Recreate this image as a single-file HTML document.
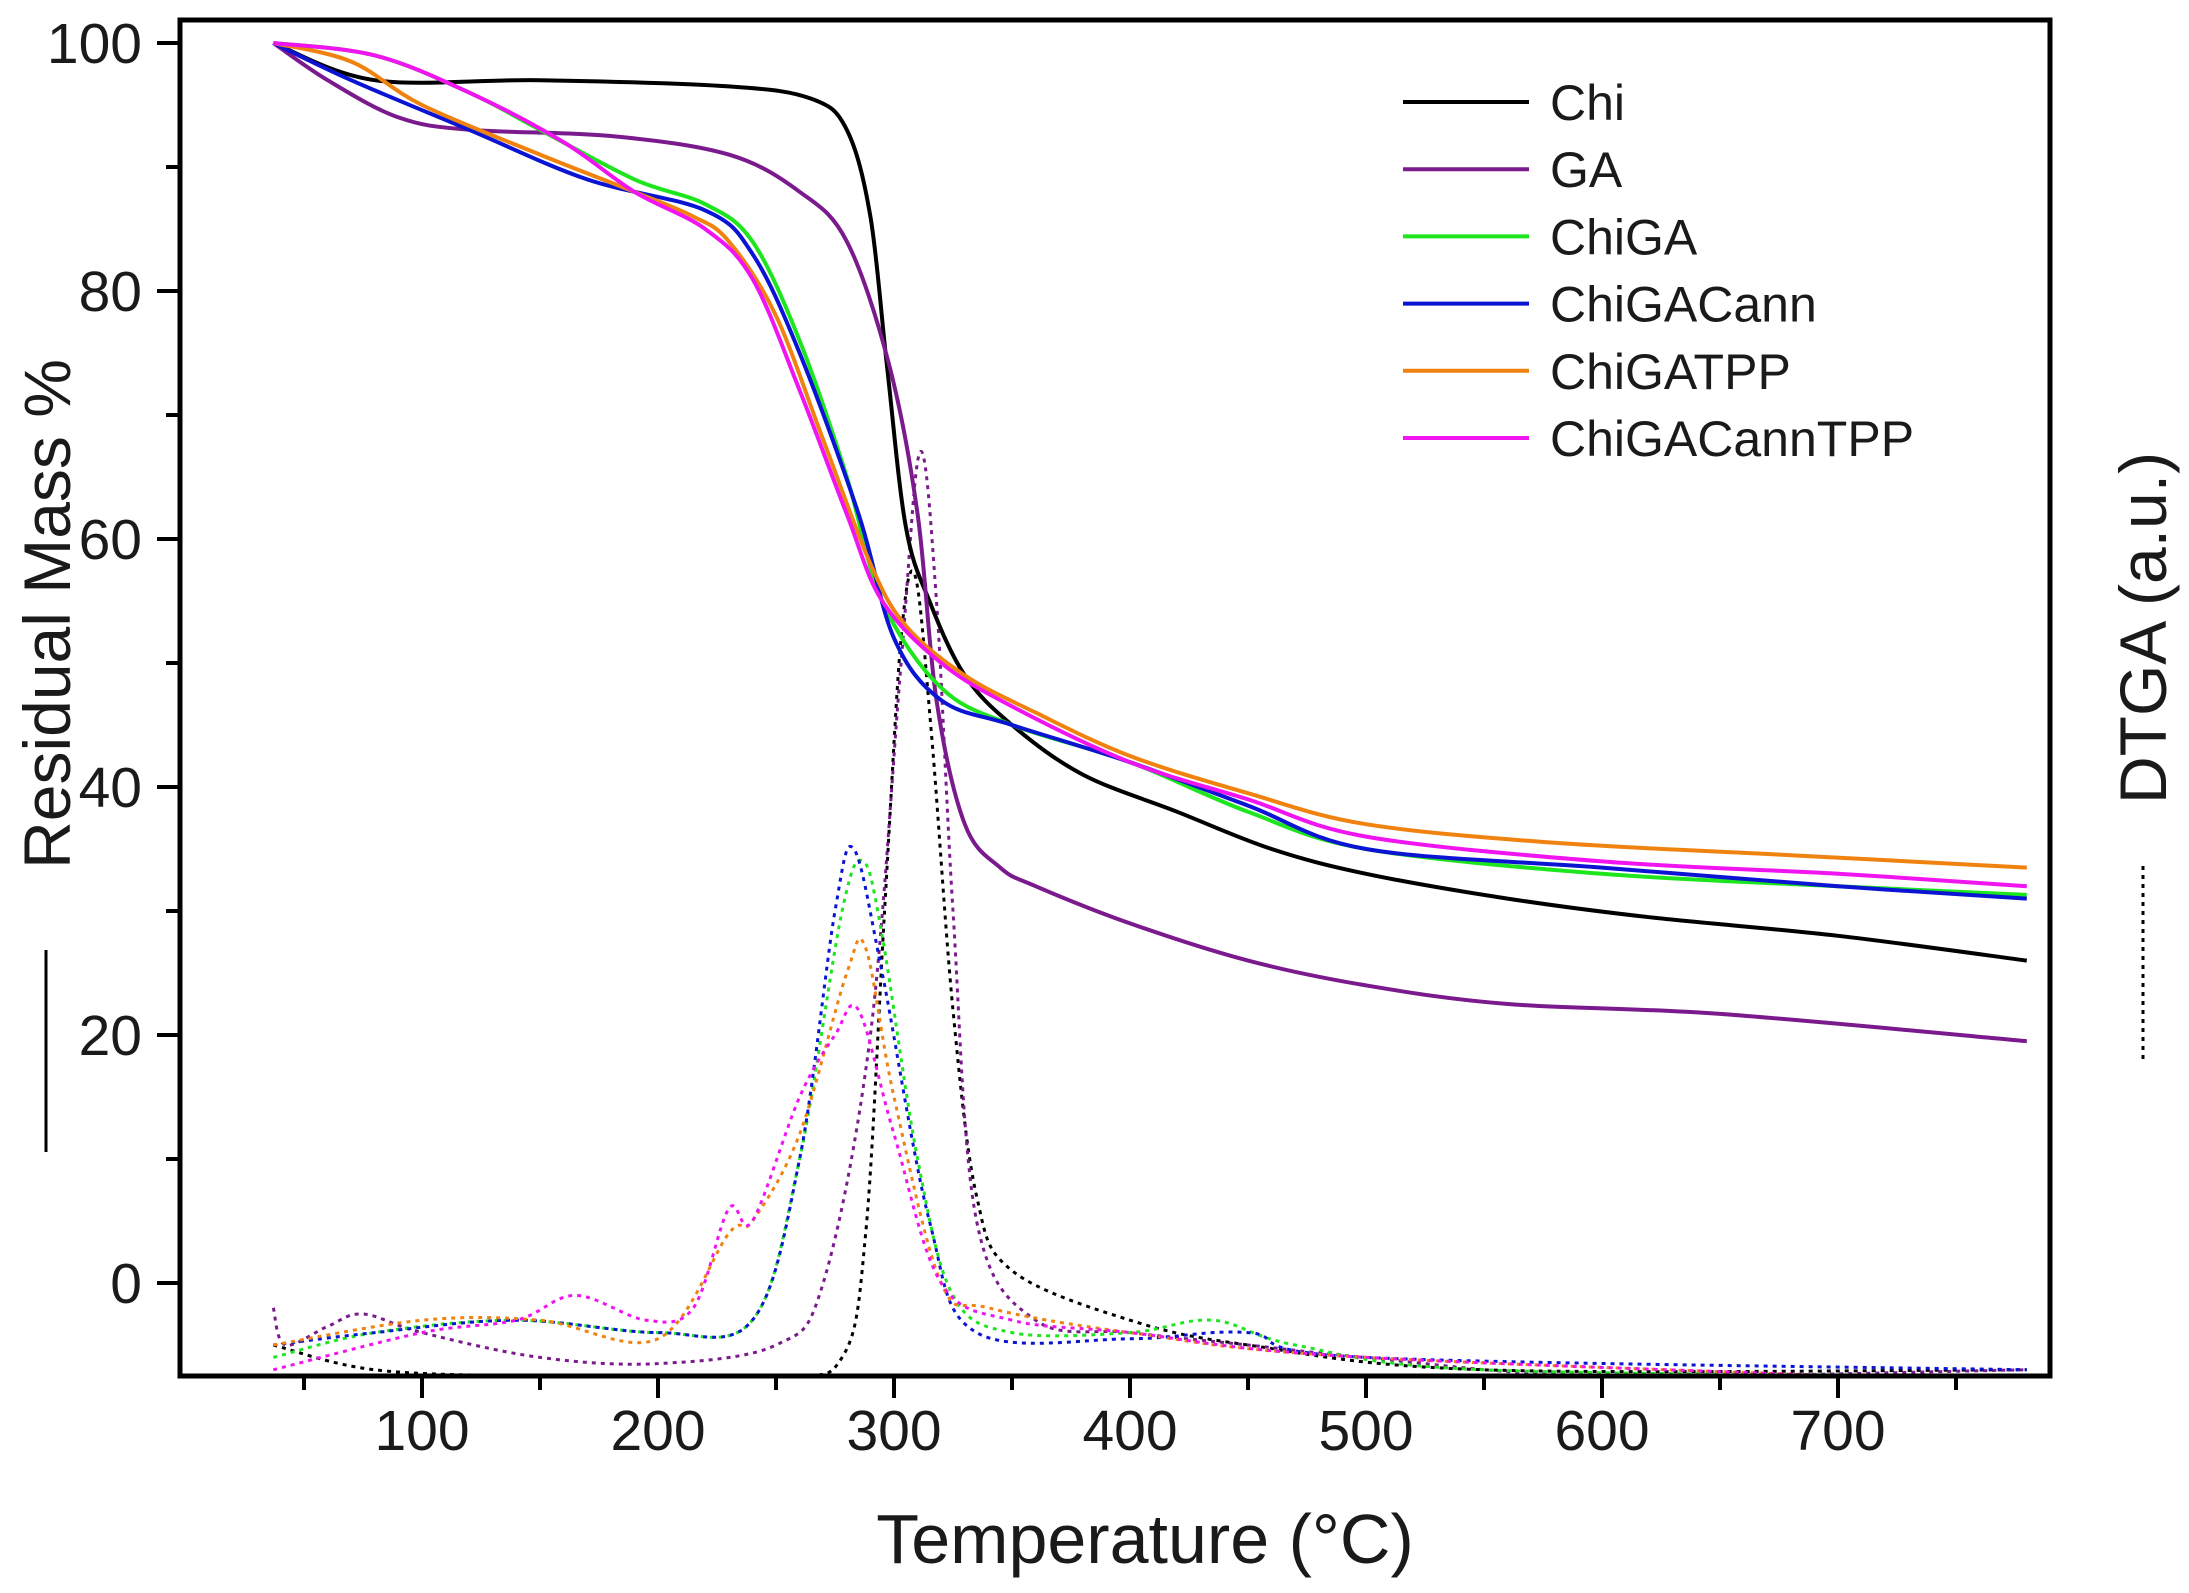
<!DOCTYPE html>
<html><head><meta charset="utf-8"><style>
html,body{margin:0;padding:0;background:#fff;}
svg{display:block;font-family:"Liberation Sans",Arial,sans-serif;}
</style></head><body>
<svg id="s" width="2189" height="1593" viewBox="0 0 2189 1593" xmlns="http://www.w3.org/2000/svg">
<defs><clipPath id="c"><rect x="180" y="20" width="1870" height="1356"/></clipPath></defs>
<g id="curves" clip-path="url(#c)"></g>
<rect x="180" y="20" width="1870" height="1356" fill="none" stroke="#000" stroke-width="5"/>
<g id="ticks" stroke="#000" stroke-width="4"></g>
<g font-size="57" fill="#1a1a1a">
<text x="142" y="63" text-anchor="end">100</text>
<text x="142" y="311" text-anchor="end">80</text>
<text x="142" y="559" text-anchor="end">60</text>
<text x="142" y="807" text-anchor="end">40</text>
<text x="142" y="1055" text-anchor="end">20</text>
<text x="142" y="1303" text-anchor="end">0</text>
<text x="422" y="1450" text-anchor="middle">100</text>
<text x="658" y="1450" text-anchor="middle">200</text>
<text x="894" y="1450" text-anchor="middle">300</text>
<text x="1130" y="1450" text-anchor="middle">400</text>
<text x="1366" y="1450" text-anchor="middle">500</text>
<text x="1602" y="1450" text-anchor="middle">600</text>
<text x="1838" y="1450" text-anchor="middle">700</text>
</g>
<text x="1145" y="1563" text-anchor="middle" font-size="70" fill="#1a1a1a">Temperature (°C)</text>
<text transform="translate(70,614) rotate(-90)" text-anchor="middle" font-size="66" fill="#1a1a1a">Residual Mass %</text>
<line x1="46" y1="950" x2="46" y2="1152" stroke="#000" stroke-width="3"/>
<text transform="translate(2166,628) rotate(-90)" text-anchor="middle" font-size="66" fill="#1a1a1a">DTGA (a.u.)</text>
<line x1="2143" y1="866" x2="2143" y2="1061" stroke="#000" stroke-width="3" stroke-dasharray="4 5"/>
<g id="legend" font-size="50" fill="#1a1a1a"></g>
</svg>
<script>
var X=function(t){return 422+(t-100)*2.36},Y=function(v){return 1283-v*12.4};
function path(pts){var p=pts.map(function(a){return [X(a[0]),Y(a[1])]});var d="M"+p[0][0]+","+p[0][1];
for(var i=0;i<p.length-1;i++){var p0=p[i-1]||p[i],p1=p[i],p2=p[i+1],p3=p[i+2]||p2;
d+=" C"+(p1[0]+(p2[0]-p0[0])/6)+","+(p1[1]+(p2[1]-p0[1])/6)+" "+(p2[0]-(p3[0]-p1[0])/6)+","+(p2[1]-(p3[1]-p1[1])/6)+" "+p2[0]+","+p2[1];}return d;}
var S=[
["Chi","#000",[[37,100],[80,97],[150,97],[230,96.5],[265,95.5],[280,93],[290,86],[297,74],[305,61],[315,55],[330,49],[350,45],[380,41],[420,38],[460,35],[500,33],[560,31],[620,29.5],[700,28],[780,26]],
 [[37,-5],[80,-7],[150,-7.5],[250,-7.5],[278,-6],[288,4],[296,30],[303,52],[309,57],[316,44],[325,22],[335,7],[350,1],[400,-3],[450,-5],[550,-7],[780,-7]]],
["GA","#7a1a8c",[[37,100],[60,97],[90,94],[120,93],[180,92.5],[230,91],[260,88],[280,84],[298,74],[310,62],[318,47],[330,37],[345,33.5],[360,32],[400,29],[450,26],[500,24],[560,22.5],[650,21.7],[780,19.5]],
 [[37,-2],[42,-5],[60,-3.5],[75,-2.5],[100,-4],[150,-6],[200,-6.5],[250,-5],[270,0],[290,20],[303,50],[311,67],[318,55],[325,30],[335,5],[360,-3],[400,-4],[450,-5],[500,-6],[600,-7.5],[780,-7]]],
["ChiGA","#1ee61e",[[37,100],[80,99],[120,96],[150,93],[190,89],[220,87],[240,84],[260,76],[280,65],[295,55],[320,48],[350,45],[400,42],[450,38],[500,35],[600,33],[700,32],[780,31.3]],
 [[37,-6],[80,-4],[140,-3],[200,-4],[240,-3],[260,10],[278,30],[287,34],[295,28],[310,10],[325,-1],[350,-4],[400,-4],[435,-3],[470,-5],[550,-7],[780,-7.5]]],
["ChiGACann","#0a14d2",[[37,100],[70,97],[120,93],[170,89],[220,86.5],[240,83],[260,75],[285,62],[300,52],[320,47],[350,45],[400,42],[450,38.5],[500,35],[600,33.5],[700,32],[780,31]],
 [[37,-5],[80,-4],[140,-3],[200,-4],[240,-3],[260,10],[275,30],[283,35],[295,25],[315,5],[335,-4],[400,-4.5],[450,-4],[500,-6],[780,-7]]],
["ChiGATPP","#f0820f",[[37,100],[70,98.5],[100,95],[150,91],[190,88],[215,86],[230,84],[250,78],[270,68],[290,58],[305,53],[330,49],[360,46],[400,42.5],[450,39.5],[500,37],[580,35.5],[680,34.5],[780,33.5]],
 [[37,-5],[100,-3],[150,-3],[200,-4.5],[230,4],[240,5],[260,12],[280,25],[288,27],[300,15],[320,0],[340,-2],[400,-4],[500,-6],[780,-8]]],
["ChiGACannTPP","#f014f0",[[37,100],[80,99],[120,96],[160,92],[190,88],[220,85],[240,81],[260,72],[280,62],[295,55],[320,50],[350,46.5],[400,42],[450,39],[500,36],[600,34],[700,33],[780,32]],
 [[37,-7],[100,-4],[140,-3],[165,-1],[195,-3],[215,-2],[230,6],[240,5],[260,15],[275,20],[285,22],[300,12],[320,0],[350,-3],[400,-4],[500,-6],[780,-8]]]];
var NS="http://www.w3.org/2000/svg",g=document.getElementById("curves"),lg=document.getElementById("legend");
function el(p,n,a){var e=document.createElementNS(NS,n);for(var k in a)e.setAttribute(k,a[k]);p.appendChild(e);return e;}
S.forEach(function(s){el(g,"path",{d:path(s[3]),fill:"none",stroke:s[1],"stroke-width":3,"stroke-dasharray":"4 5"});});
S.forEach(function(s){el(g,"path",{d:path(s[2]),fill:"none",stroke:s[1],"stroke-width":4});});
S.forEach(function(s,i){var y=102+i*67.2;el(lg,"line",{x1:1403,x2:1529,y1:y,y2:y,stroke:s[1],"stroke-width":4});
var t=el(lg,"text",{x:1550,y:y+18});t.textContent=s[0];});
var tk=document.getElementById("ticks");
for(var v=0;v<=100;v+=10){var y=Y(v);el(tk,"line",{x1:v%20?166:157,x2:180,y1:y,y2:y});}
for(var t=50;t<=750;t+=50){var x=X(t);el(tk,"line",{x1:x,x2:x,y1:1376,y2:t%100?1390:1398});}
</script>
</body></html>
